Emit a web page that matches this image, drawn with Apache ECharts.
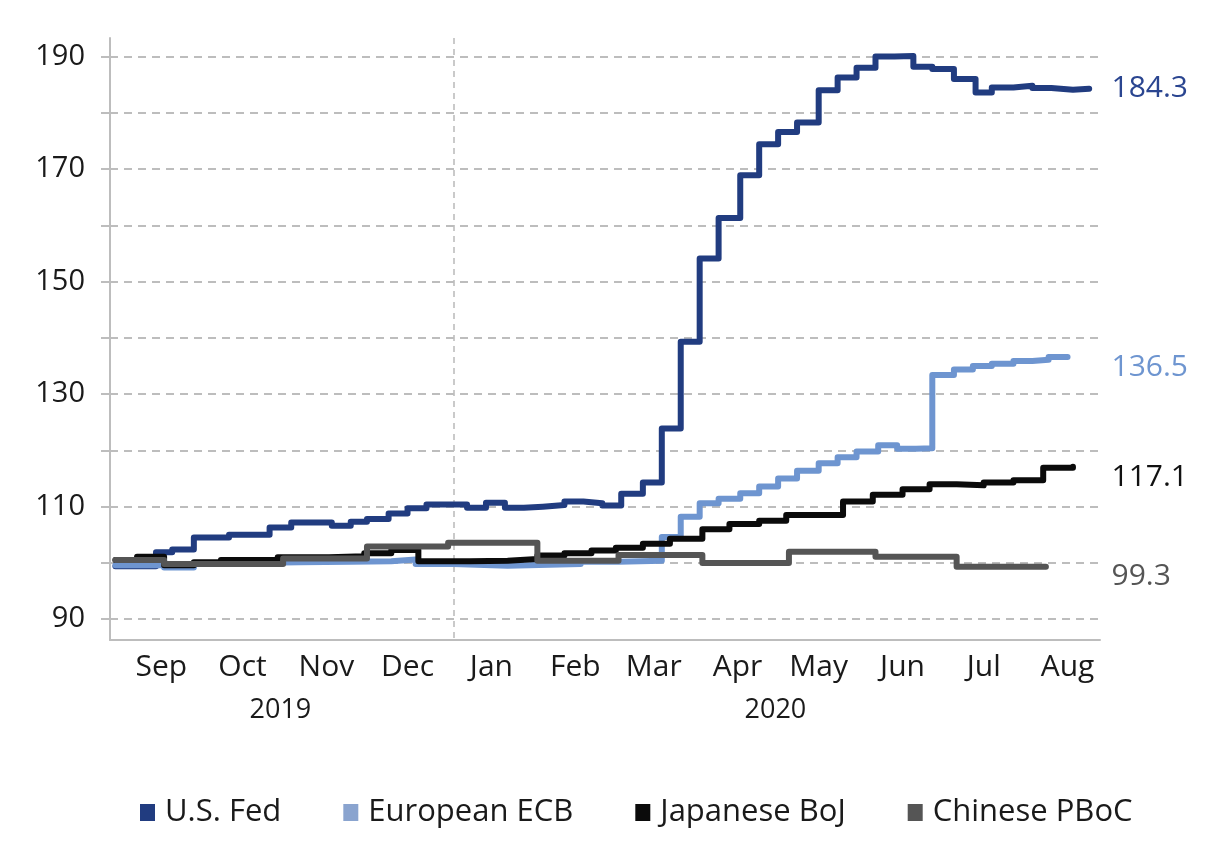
<!DOCTYPE html>
<html>
<head>
<meta charset="utf-8">
<script src="https://cdn.jsdelivr.net/npm/echarts@6/dist/echarts.min.js"></script>
<style>
html,body{margin:0;padding:0;background:#ffffff;}
#chart{width:1230px;height:859px;}
</style>
</head>
<body>
<div id="chart"></div>
<script>
// ---------------- DATA ----------------
const seriesNames = ['U.S. Fed', 'European ECB', 'Japanese BoJ', 'Chinese PBoC'];

const fedDates = ['2019-08-29','2019-09-13','2019-09-19','2019-09-27','2019-10-10','2019-10-25','2019-11-02','2019-11-17','2019-11-24','2019-11-30','2019-12-08','2019-12-15','2019-12-22','2020-01-06','2020-01-13','2020-01-20','2020-01-27','2020-02-03','2020-02-11','2020-02-18','2020-02-25','2020-03-03','2020-03-11','2020-03-18','2020-03-25','2020-04-01','2020-04-08','2020-04-16','2020-04-23','2020-04-30','2020-05-07','2020-05-15','2020-05-22','2020-05-29','2020-06-05','2020-06-12','2020-06-19','2020-06-26','2020-07-04','2020-07-12','2020-07-18','2020-07-26','2020-08-02','2020-08-09','2020-08-17','2020-08-23'];
const fedValues = [99.4,101.9,102.4,104.5,105.0,106.3,107.2,106.6,107.3,107.8,108.8,109.7,110.4,109.8,110.7,109.8,110.0,110.3,110.9,110.6,110.2,112.3,114.3,123.9,139.3,154.1,161.3,168.9,174.4,176.6,178.3,184.0,186.3,188.0,190.0,190.1,188.2,187.8,186.0,183.6,184.5,184.8,184.4,184.1,184.3,184.3];

const ecbDates = ['2019-08-29','2019-09-16','2019-09-27','2019-10-18','2019-11-05','2019-11-24','2019-12-09','2019-12-18','2020-01-01','2020-01-21','2020-02-17','2020-03-02','2020-03-18','2020-03-25','2020-04-01','2020-04-08','2020-04-16','2020-04-23','2020-04-30','2020-05-07','2020-05-15','2020-05-22','2020-05-29','2020-06-06','2020-06-13','2020-06-20','2020-06-26','2020-07-04','2020-07-11','2020-07-18','2020-07-26','2020-08-02','2020-08-08','2020-08-15'];
const ecbValues = [99.6,99.2,100.0,100.1,100.2,100.3,100.6,99.8,99.5,99.8,100.2,100.4,104.6,108.2,110.6,111.4,112.4,113.6,115.0,116.4,117.7,118.8,119.8,120.9,120.3,120.4,133.4,134.4,135.0,135.4,135.9,136.1,136.6,136.5];

const bojDates = ['2019-08-29','2019-09-06','2019-09-16','2019-09-27','2019-10-07','2019-10-28','2019-11-16','2019-11-29','2019-12-09','2019-12-19','2020-01-07','2020-01-21','2020-02-01','2020-02-11','2020-02-21','2020-03-01','2020-03-11','2020-03-21','2020-04-02','2020-04-12','2020-04-23','2020-05-03','2020-05-24','2020-06-04','2020-06-15','2020-06-25','2020-07-05','2020-07-15','2020-07-26','2020-08-06','2020-08-17'];
const bojValues = [100.5,101.1,99.6,100.1,100.5,101.0,101.2,101.7,102.3,100.3,100.4,100.7,101.3,101.7,102.2,102.7,103.4,104.3,106.0,106.9,107.5,108.5,110.9,112.1,113.1,114.0,113.8,114.3,114.7,116.9,117.1];

const pbocDates = ['2019-08-29','2019-09-16','2019-10-30','2019-11-30','2019-12-30','2020-02-01','2020-03-02','2020-04-02','2020-05-04','2020-06-05','2020-07-05','2020-08-07'];
const pbocValues = [100.5,99.8,100.8,102.9,103.6,100.4,101.4,100.0,102.0,101.1,99.3,99.3];

const endValueLabels = ['184.3', '136.5', '117.1', '99.3'];

const monthTickDates = ['2019-09-15','2019-10-15','2019-11-15','2019-12-15','2020-01-15','2020-02-15','2020-03-15','2020-04-15','2020-05-15','2020-06-15','2020-07-15','2020-08-15'];
const monthTickLabels = ['Sep','Oct','Nov','Dec','Jan','Feb','Mar','Apr','May','Jun','Jul','Aug'];
const yearLabelDates = ['2019-10-29','2020-04-29'];
const yearLabels = ['2019','2020'];
const yearBoundaryDates = ['2020-01-01'];

const yLabelValues = [90, 110, 130, 150, 170, 190];
const yGridValues = [90, 100, 110, 120, 130, 140, 150, 160, 170, 180, 190];

const xRange = ['2019-08-27', '2020-08-27'];
const yRange = [86.3, 193.3];

// ---------------- HELPERS / STYLE ----------------
function ts(s) { const p = s.split('-').map(Number); return Date.UTC(p[0], p[1] - 1, p[2]); }
function pairs(dates, values) { return dates.map((d, i) => [ts(d), values[i]]); }

const colors = ['#213c80', '#6e95d0', '#0b0b0b', '#555555'];
const legendColors = ['#213c80', '#8aa4cf', '#0b0b0b', '#555555'];
const labelColors = ['#2a4590', '#6e95d0', '#111111', '#555555'];
const labelDy = [0, 10, 11, 10];
const FONT = '"Open Sans", "Noto Sans", sans-serif';
const GRID_COLOR = '#bdbdbd';
const TEXT = '#1a1a1a';

const allData = [
  pairs(fedDates, fedValues),
  pairs(ecbDates, ecbValues),
  pairs(bojDates, bojValues),
  pairs(pbocDates, pbocValues)
];
const xMin = ts(xRange[0]), xMax = ts(xRange[1]);
const monthTs = monthTickDates.map(ts);
const yearTs = yearLabelDates.map(ts);

const series = seriesNames.map((name, i) => ({
  name: name,
  type: 'line',
  step: 'end',
  xAxisIndex: 0,
  yAxisIndex: 0,
  data: allData[i],
  showSymbol: false,
  symbol: 'none',
  color: legendColors[i],
  lineStyle: { color: colors[i], width: 6, cap: 'round', join: 'round' },
  itemStyle: { color: legendColors[i] },
  z: 2 + i,
  markPoint: {
    silent: true,
    symbol: 'circle',
    symbolSize: 1,
    itemStyle: { color: 'rgba(0,0,0,0)' },
    label: {
      show: true,
      position: 'right',
      distance: 11,
      offset: [0, labelDy[i]],
      color: labelColors[i],
      fontFamily: FONT,
      fontSize: 30,
      formatter: () => endValueLabels[i]
    },
    data: [{ coord: [xMax, allData[i][allData[i].length - 1][1]] }]
  }
}));

const chart = echarts.init(document.getElementById('chart'), null, { renderer: 'canvas' });
chart.setOption({
  animation: false,
  backgroundColor: '#ffffff',
  grid: { left: 110, right: 130, top: 38, bottom: 219, containLabel: false },
  legend: {
    bottom: 26,
    left: 135,
    itemWidth: 15,
    itemHeight: 17,
    itemGap: 62,
    icon: 'rect',
    textStyle: { fontFamily: FONT, fontSize: 31, color: TEXT, padding: [0, 0, 0, 5] },
    data: seriesNames.map((n, i) => ({ name: n, itemStyle: { color: legendColors[i] } }))
  },
  xAxis: [
    {
      type: 'value',
      min: xMin,
      max: xMax,
      axisLine: { show: true, lineStyle: { color: GRID_COLOR, width: 2 } },
      axisTick: { show: false, customValues: yearBoundaryDates.map(ts) },
      splitLine: { show: true, lineStyle: { color: GRID_COLOR, width: 1.6, type: [6, 5] } },
      axisLabel: {
        customValues: monthTs,
        formatter: (v) => { const k = monthTs.indexOf(v); return k >= 0 ? monthTickLabels[k] : ''; },
        fontFamily: FONT, fontSize: 30, color: TEXT, margin: 12,
        hideOverlap: false
      }
    },
    {
      type: 'value',
      min: xMin,
      max: xMax,
      position: 'bottom',
      axisLine: { show: false },
      axisTick: { show: false },
      splitLine: { show: false },
      axisLabel: {
        customValues: yearTs,
        formatter: (v) => { const k = yearTs.indexOf(v); return k >= 0 ? yearLabels[k] : ''; },
        fontFamily: FONT, fontSize: 27, color: TEXT, margin: 57,
        hideOverlap: false
      }
    }
  ],
  yAxis: {
    type: 'value',
    min: yRange[0],
    max: yRange[1],
    axisLine: { show: true, lineStyle: { color: GRID_COLOR, width: 2 } },
    axisTick: { show: true, inside: false, length: 9, customValues: yGridValues, lineStyle: { color: GRID_COLOR, width: 2 } },
    splitLine: { show: true, lineStyle: { color: GRID_COLOR, width: 2, type: [8, 6] } },
    axisLabel: {
      customValues: yLabelValues,
      fontFamily: FONT, fontSize: 29, color: TEXT, margin: 25
    }
  },
  series: series
});
</script>
</body>
</html>
